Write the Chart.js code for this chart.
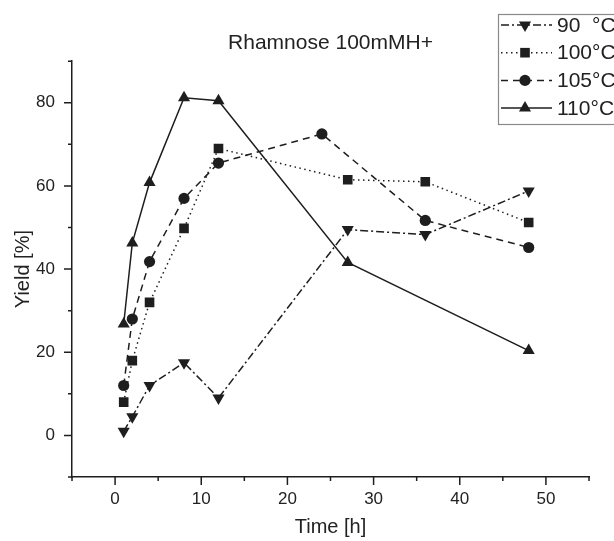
<!DOCTYPE html>
<html>
<head>
<meta charset="utf-8">
<script src="https://cdn.jsdelivr.net/npm/chart.js@4.4.1/dist/chart.umd.min.js"></script>
<style>
html, body { margin: 0; padding: 0; background: #fff; }
canvas { display: block; }
</style>
</head>
<body>
<canvas id="yieldchart" width="614" height="541"></canvas>
<script>
// time [h] and yield [%] per temperature
var t90 = [1, 2, 4, 8, 12, 27, 36, 48];
var y90 = [1, 4.5, 12, 17.5, 9, 49.5, 48.3, 58.8];
var t100 = [1, 2, 4, 8, 12, 27, 36, 48];
var y100 = [8, 18, 32, 49.8, 69, 61.5, 61, 51.2];
var t105 = [1, 2, 4, 8, 12, 24, 36, 48];
var y105 = [12, 28, 41.8, 57, 65.5, 72.5, 51.7, 45.2];
var t110 = [1, 2, 4, 8, 12, 27, 48];
var y110 = [26.8, 46.3, 60.8, 81.2, 80.5, 41.6, 20.4];

var seriesNames = ['90  °C', '100°C', '105°C', '110°C'];
var xTicks = [0, 10, 20, 30, 40, 50];
var yTicks = [0, 20, 40, 60, 80];

var FONT = '"Liberation Sans", Arial, sans-serif';
var INK = '#1e1e1e';

function pts(t, y) {
    var out = [];
    for (var i = 0; i < t.length; i++) out.push({x: t[i], y: y[i]});
    return out;
}

var styles = [
    {dash: [8, 3, 2, 3], pointStyle: 'triangle', rotation: 180, radius: 7},
    {dash: [1.5, 3.5], pointStyle: 'rect', rotation: 0, radius: 6.8},
    {dash: [7, 5], pointStyle: 'circle', rotation: 0, radius: 5.6},
    {dash: [], pointStyle: 'triangle', rotation: 0, radius: 7}
];
var seriesData = [pts(t90, y90), pts(t100, y100), pts(t105, y105), pts(t110, y110)];

var datasets = seriesData.map(function (d, i) {
    return {
        label: seriesNames[i],
        data: d,
        showLine: true,
        borderColor: INK,
        backgroundColor: INK,
        borderWidth: 1.5,
        borderDash: styles[i].dash,
        pointStyle: styles[i].pointStyle,
        rotation: styles[i].rotation,
        pointRadius: styles[i].radius,
        pointBorderWidth: 0,
        pointBackgroundColor: INK,
        tension: 0
    };
});

// small outward ticks, long on labelled values, short in between
var axisTicks = {
    id: 'axisTicks',
    afterDraw: function (chart) {
        var ctx = chart.ctx, a = chart.chartArea;
        var xs = chart.scales.x, ys = chart.scales.y;
        ctx.save();
        ctx.strokeStyle = INK;
        ctx.lineWidth = 1.5;
        ctx.setLineDash([]);
        ctx.beginPath();
        for (var v = -5; v <= 55; v += 5) {
            var px = xs.getPixelForValue(v);
            var len = xTicks.indexOf(v) >= 0 ? 8 : 4;
            ctx.moveTo(px, a.bottom);
            ctx.lineTo(px, a.bottom + len);
        }
        for (var w = -10; w <= 90; w += 10) {
            var py = ys.getPixelForValue(w);
            var l2 = yTicks.indexOf(w) >= 0 ? 8 : 4;
            ctx.moveTo(a.left, py);
            ctx.lineTo(a.left - l2, py);
        }
        ctx.stroke();
        ctx.restore();
    }
};

// boxed legend with line samples, top right, running off the edge
var sampleLegend = {
    id: 'sampleLegend',
    afterDraw: function (chart) {
        var ctx = chart.ctx;
        ctx.save();
        ctx.strokeStyle = '#8a8a8a';
        ctx.lineWidth = 1.2;
        ctx.setLineDash([]);
        ctx.strokeRect(498.5, 14.5, 140, 110);
        ctx.font = '21px ' + FONT;
        ctx.textBaseline = 'middle';
        ctx.textAlign = 'left';
        for (var i = 0; i < seriesNames.length; i++) {
            var cy = 25 + i * 27.7;
            ctx.strokeStyle = INK;
            ctx.lineWidth = 1.5;
            ctx.setLineDash(styles[i].dash);
            ctx.beginPath();
            ctx.moveTo(501, cy);
            ctx.lineTo(552, cy);
            ctx.stroke();
            ctx.setLineDash([]);
            ctx.fillStyle = INK;
            Chart.helpers.drawPoint(ctx, {
                pointStyle: styles[i].pointStyle,
                rotation: styles[i].rotation,
                radius: styles[i].radius,
                borderWidth: 0
            }, 525, cy);
            ctx.fillStyle = '#222';
            ctx.fillText(seriesNames[i], 557, cy + 1);
        }
        ctx.restore();
    }
};

var ctx1 = document.getElementById('yieldchart').getContext('2d');
var yieldchart = new Chart(ctx1, {
    type: 'scatter',
    data: {datasets: datasets},
    options: {
        responsive: false,
        animation: false,
        layout: {padding: {left: 0, right: 25, top: 0, bottom: 0}},
        plugins: {
            legend: {display: false},
            tooltip: {enabled: false},
            title: {
                display: true,
                text: 'Rhamnose 100mMH+',
                fullSize: false,
                color: '#222',
                font: {family: FONT, size: 21, weight: 'normal', lineHeight: 1.2},
                padding: {top: 31, bottom: 5}
            }
        },
        scales: {
            x: {
                type: 'linear',
                min: -5,
                max: 55,
                afterFit: function (s) { s.height = 64; },
                border: {display: true, color: INK, width: 1.5},
                grid: {drawOnChartArea: false, tickLength: 8, tickColor: 'rgba(0,0,0,0)'},
                ticks: {
                    stepSize: 5,
                    padding: 4,
                    color: '#222',
                    font: {family: FONT, size: 17},
                    maxRotation: 0,
                    autoSkip: false,
                    callback: function (v) { return xTicks.indexOf(v) >= 0 ? String(v) : ''; }
                },
                title: {
                    display: true,
                    text: 'Time [h]',
                    color: '#222',
                    font: {family: FONT, size: 20, lineHeight: 1.2},
                    padding: {top: 0, bottom: 2}
                }
            },
            y: {
                min: -10,
                max: 90,
                afterFit: function (s) { s.width = 72; },
                border: {display: true, color: INK, width: 1.5},
                grid: {drawOnChartArea: false, tickLength: 8, tickColor: 'rgba(0,0,0,0)'},
                ticks: {
                    stepSize: 10,
                    padding: 9,
                    color: '#222',
                    font: {family: FONT, size: 17},
                    autoSkip: false,
                    callback: function (v) { return yTicks.indexOf(v) >= 0 ? String(v) : ''; }
                },
                title: {
                    display: true,
                    text: 'Yield [%]',
                    color: '#222',
                    font: {family: FONT, size: 20, lineHeight: 1.2},
                    padding: {top: 11, bottom: 0}
                }
            }
        }
    },
    plugins: [axisTicks, sampleLegend]
});
</script>
</body>
</html>
